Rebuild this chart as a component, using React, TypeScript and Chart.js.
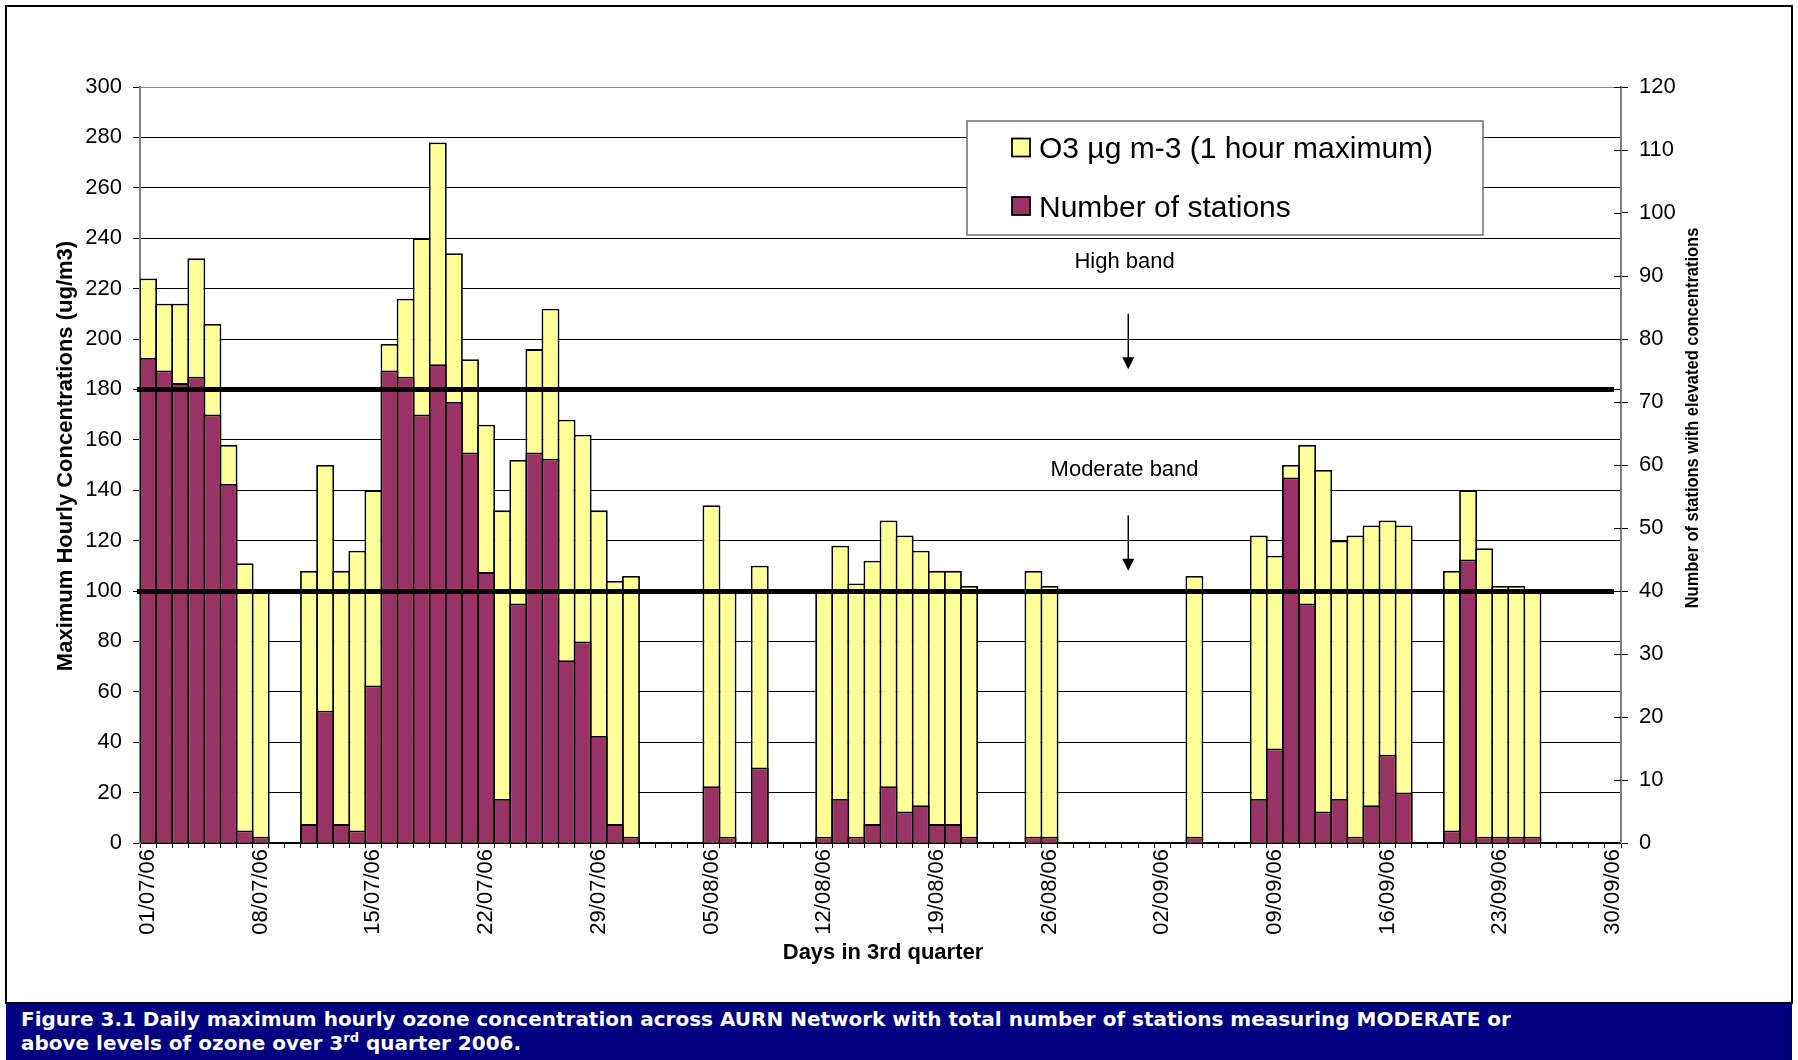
import React, { useEffect, useRef } from 'react';
import { Chart, registerables } from 'chart.js';

Chart.register(...registerables);

// Third quarter 2006: one category per day, 1 July to 30 September
const MONTHS: [string, number][] = [
  ['07', 31],
  ['08', 31],
  ['09', 30],
];
const DAYS: string[] = [];
for (const [mm, count] of MONTHS) {
  for (let d = 1; d <= count; d++) DAYS.push(`${String(d).padStart(2, '0')}/${mm}/06`);
}
// a date label is printed once a week
const LABEL_EVERY = 7;

// Daily maximum hourly ozone, ug/m3 (null = no day at or above the moderate band)
const O3_MAX: (number | null)[] = [
  224, 214, 214, 232, 206, 158, 111, 100, null, null,
  108, 150, 108, 116, 140, 198, 216, 240, 278, 234,
  192, 166, 132, 152, 196, 212, 168, 162, 132, 104,
  106, null, null, null, null, 134, 100, null, 110, null,
  null, null, 100, 118, 103, 112, 128, 122, 116, 108,
  108, 102, null, null, null, 108, 102, null, null, null,
  null, null, null, null, null, 106, null, null, null, 122,
  114, 150, 158, 148, 120, 122, 126, 128, 126, null,
  null, 108, 140, 117, 102, 102, 100, null, null, null,
  null, null,
];

// Number of stations measuring MODERATE or above
const STATIONS: (number | null)[] = [
  77, 75, 73, 74, 68, 57, 2, 1, null, null,
  3, 21, 3, 2, 25, 75, 74, 68, 76, 70,
  62, 43, 7, 38, 62, 61, 29, 32, 17, 3,
  1, null, null, null, null, 9, 1, null, 12, null,
  null, null, 1, 7, 1, 3, 9, 5, 6, 3,
  3, 1, null, null, null, 1, 1, null, null, null,
  null, null, null, null, null, 1, null, null, null, 7,
  15, 58, 38, 5, 7, 1, 6, 14, 8, null,
  null, 2, 45, 1, 1, 1, 1, null, null, null,
  null, null,
];

// Axis ranges
const LEFT_RANGE = [0, 300, 20];
const RIGHT_RANGE = [0, 120, 10];

// Band thresholds on the concentration axis
const BAND_VALUES = [180, 100];
const BAND_NAMES = ['High band', 'Moderate band'];

const SERIES_NAMES = ['O3 \u00b5g m-3 (1 hour maximum)', 'Number of stations'];
const TITLE_LEFT = 'Maximum Hourly Concentrations (ug/m3)';
const TITLE_RIGHT = 'Number of stations with elevated concentrations';
const TITLE_X = 'Days in 3rd quarter';

const YELLOW = '#FFFF99';
const PLUM = '#993366';
const SANS = '"Liberation Sans", Arial, sans-serif';

// where the band captions and arrows sit, in concentration units above each band line
const BAND_NOTES = [
  { text: 48, arrowTop: 30, arrowTip: 8 },
  { text: 45.5, arrowTop: 30, arrowTip: 8 },
];

const overlay = {
  id: 'overlay',
  afterDatasetsDraw(chart: any) {
    const { ctx, chartArea: ca, scales } = chart;
    const y = scales.y;
    ctx.save();

    // band threshold lines
    ctx.strokeStyle = '#000';
    ctx.lineWidth = 5;
    BAND_VALUES.forEach((v) => {
      const py = Math.round(y.getPixelForValue(v)) + 0.5;
      ctx.beginPath();
      ctx.moveTo(ca.left - 3, py);
      ctx.lineTo(ca.right - 7, py);
      ctx.stroke();
    });

    // band captions with arrows pointing at the lines
    const textX = ca.left + (ca.right - ca.left) * 0.6648;
    const arrowX = ca.left + (ca.right - ca.left) * 0.6673;
    ctx.fillStyle = '#000';
    ctx.font = `22px ${SANS}`;
    ctx.textAlign = 'center';
    ctx.textBaseline = 'alphabetic';
    BAND_VALUES.forEach((v, i) => {
      const note = BAND_NOTES[i];
      ctx.fillText(BAND_NAMES[i], textX, y.getPixelForValue(v + note.text));
      const top = y.getPixelForValue(v + note.arrowTop);
      const tip = y.getPixelForValue(v + note.arrowTip);
      ctx.lineWidth = 1.5;
      ctx.beginPath();
      ctx.moveTo(arrowX, top);
      ctx.lineTo(arrowX, tip - 8);
      ctx.stroke();
      ctx.beginPath();
      ctx.moveTo(arrowX - 6, tip - 12);
      ctx.lineTo(arrowX + 6, tip - 12);
      ctx.lineTo(arrowX, tip);
      ctx.closePath();
      ctx.fill();
    });

    // legend box
    const lx = ca.left + 827;
    const ly = ca.top + 34;
    const lw = 516;
    const lh = 114;
    ctx.fillStyle = '#fff';
    ctx.fillRect(lx, ly, lw, lh);
    ctx.strokeStyle = '#6e6e6e';
    ctx.lineWidth = 1.5;
    ctx.strokeRect(lx, ly, lw, lh);
    const colors = [YELLOW, PLUM];
    const rows = [26.5, 85];
    ctx.font = `30px ${SANS}`;
    ctx.textAlign = 'left';
    ctx.textBaseline = 'alphabetic';
    SERIES_NAMES.forEach((name, i) => {
      const cy = ly + rows[i];
      ctx.fillStyle = colors[i];
      ctx.fillRect(lx + 45, cy - 9, 18, 18);
      ctx.strokeStyle = '#000';
      ctx.lineWidth = 1.8;
      ctx.strokeRect(lx + 45, cy - 9, 18, 18);
      ctx.fillStyle = '#000';
      ctx.fillText(name, lx + 72, cy + 10.7);
    });
    ctx.restore();
  },
  afterDraw(chart: any) {
    const { ctx, scales } = chart;
    const y1 = scales.y1;
    ctx.save();
    // right-axis ticks cross the axis line
    ctx.strokeStyle = '#000';
    ctx.lineWidth = 1;
    y1.ticks.forEach((t: any) => {
      const py = Math.round(y1.getPixelForValue(t.value)) + 0.5;
      ctx.beginPath();
      ctx.moveTo(y1.left - 7, py);
      ctx.lineTo(y1.left, py);
      ctx.stroke();
    });

    // axis titles
    ctx.fillStyle = '#000';
    ctx.textAlign = 'center';
    ctx.textBaseline = 'middle';
    ctx.font = `bold 22px ${SANS}`;
    ctx.fillText(TITLE_X, 883, 953);

    ctx.save();
    ctx.translate(65.5, 456);
    ctx.rotate(-Math.PI / 2);
    ctx.font = `bold 22px ${SANS}`;
    ctx.fillText(TITLE_LEFT, 0, 0);
    ctx.restore();

    // the right title is set in a tall, slightly condensed face
    ctx.save();
    ctx.translate(1693, 418);
    ctx.rotate(-Math.PI / 2);
    ctx.scale(0.89, 1);
    ctx.font = `bold 18.5px ${SANS}`;
    ctx.fillText(TITLE_RIGHT, 0, 0);
    ctx.restore();

    ctx.restore();
  },
};

export default function App() {
  const canvasRef = useRef<HTMLCanvasElement>(null);

  useEffect(() => {
    const tickFont = { family: SANS, size: 22 };
    const barCommon = {
      grouped: false,
      categoryPercentage: 1,
      barPercentage: 1.112,
      borderColor: '#000',
      borderWidth: 1.8,
    };
    const chart = new Chart(canvasRef.current as HTMLCanvasElement, {
      type: 'bar',
      data: {
        labels: DAYS,
        datasets: [
          {
            ...barCommon,
            label: SERIES_NAMES[0],
            data: O3_MAX,
            backgroundColor: YELLOW,
            yAxisID: 'y',
            order: 2,
          },
          {
            ...barCommon,
            label: SERIES_NAMES[1],
            data: STATIONS,
            backgroundColor: PLUM,
            yAxisID: 'y1',
            order: 1,
          },
        ] as any,
      },
      options: {
        responsive: false,
        animation: false,
        devicePixelRatio: 1,
        layout: { padding: { top: 87, left: 0, right: 0, bottom: 0 } },
        plugins: {
          legend: { display: false },
          tooltip: { enabled: false },
        },
        scales: {
          x: {
            type: 'category',
            offset: true,
            grid: {
              offset: true,
              drawOnChartArea: false,
              drawTicks: true,
              tickLength: 5,
              color: '#000',
            },
            border: { color: '#000', width: 1.5 },
            ticks: {
              autoSkip: false,
              minRotation: 90,
              maxRotation: 90,
              padding: 1,
              color: '#000',
              font: tickFont,
              callback: (_v: any, i: number) => (i % LABEL_EVERY === 0 ? DAYS[i] : ''),
            },
            afterFit: (s: any) => {
              s.height = 160;
            },
          },
          y: {
            position: 'left',
            min: LEFT_RANGE[0],
            max: LEFT_RANGE[1],
            ticks: { stepSize: LEFT_RANGE[2], padding: 11, color: '#000', font: tickFont },
            grid: {
              color: (c: any) => (c.tick && c.tick.value === LEFT_RANGE[1] ? '#8c8c8c' : '#000'),
              lineWidth: 1,
              tickLength: 7,
              tickColor: '#000',
            },
            border: { color: '#808080', width: 2 },
            afterFit: (s: any) => {
              s.width = 140;
            },
          },
          y1: {
            position: 'right',
            min: RIGHT_RANGE[0],
            max: RIGHT_RANGE[1],
            ticks: { stepSize: RIGHT_RANGE[2], padding: 11, color: '#000', font: tickFont },
            grid: { drawOnChartArea: false, tickLength: 7, color: '#000' },
            border: { color: '#808080', width: 2 },
            afterFit: (s: any) => {
              s.width = 177;
            },
          },
        },
      } as any,
      plugins: [overlay],
    });
    return () => chart.destroy();
  }, []);

  return (
    <div
      style={{
        position: 'fixed',
        left: 0,
        top: 0,
        width: 1798,
        height: 1060,
        background: '#fff',
        overflow: 'hidden',
      }}
    >
      <canvas
        ref={canvasRef}
        width={1798}
        height={1003}
        style={{ position: 'absolute', left: 0, top: 0, width: 1798, height: 1003 }}
      />
      <div
        style={{
          position: 'absolute',
          left: 5,
          top: 5,
          width: 1788,
          height: 999,
          border: '2.5px solid #000',
          boxSizing: 'border-box',
          pointerEvents: 'none',
        }}
      />
      <div
        style={{
          position: 'absolute',
          left: 6,
          top: 1004,
          width: 1786,
          height: 56,
          background: '#000080',
          color: '#fff',
          fontFamily: '"DejaVu Sans", Verdana, sans-serif',
          fontWeight: 'bold',
          fontSize: 20,
          lineHeight: '24px',
          padding: '3px 0 0 15px',
          boxSizing: 'border-box',
          whiteSpace: 'nowrap',
        }}
      >
        Figure 3.1 Daily maximum hourly ozone concentration across AURN Network with total number of stations
        measuring MODERATE or
        <br />
        above levels of ozone over 3
        <sup style={{ fontSize: 13, lineHeight: 0, verticalAlign: 'baseline', position: 'relative', top: -8 }}>
          rd
        </sup>{' '}
        quarter 2006.
      </div>
    </div>
  );
}
